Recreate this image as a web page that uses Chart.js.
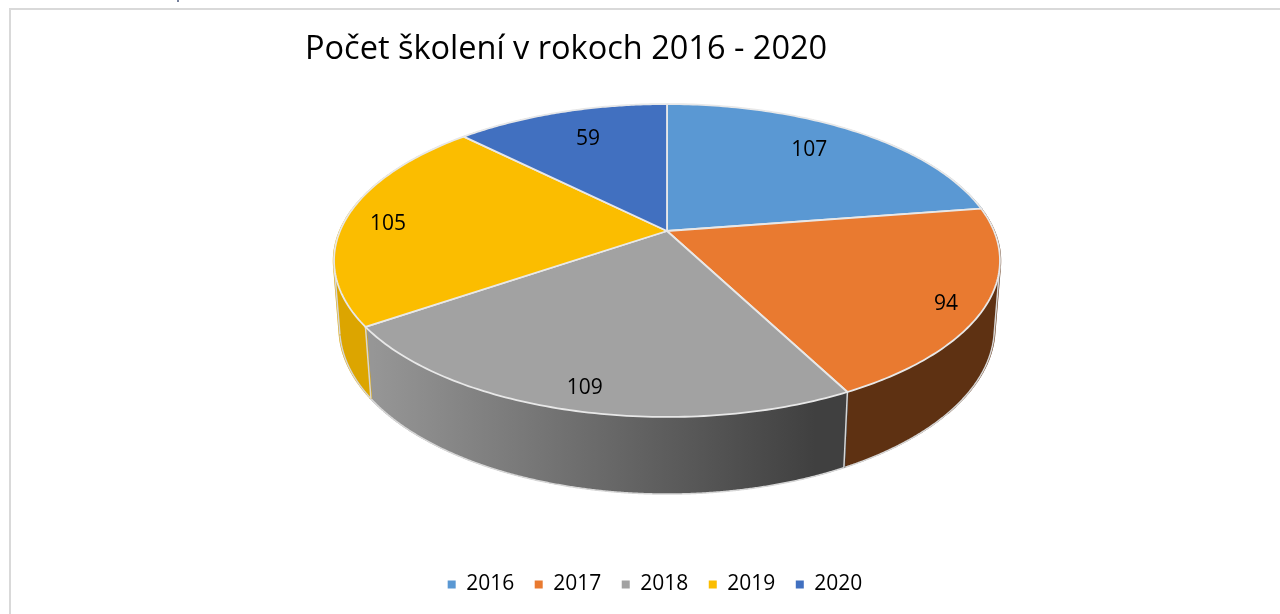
<!DOCTYPE html>
<html lang="sk">
<head>
<meta charset="utf-8">
<title>Počet školení v rokoch 2016 - 2020</title>
<script src="https://cdn.jsdelivr.net/npm/chart.js@4"></script>
<style>
  html, body { margin: 0; padding: 0; background: #fff; overflow: hidden; }
  #ramHore { position: absolute; left: 9px; top: 8px; width: 1271px; height: 2px; background: #d9d9d9; }
  #ramVlavo { position: absolute; left: 9px; top: 8px; width: 2px; height: 606px; background: #d9d9d9; }
  #znacka { position: absolute; left: 177px; top: 0; width: 2px; height: 2px; background: #75809c; }
  canvas { position: absolute; left: 0; top: 0; }
</style>
</head>
<body>
<canvas id="graf" width="1280" height="614"></canvas>
<div id="ramHore"></div>
<div id="ramVlavo"></div>
<div id="znacka"></div>
<script>
// data z grafu
var roky = ["2016", "2017", "2018", "2019", "2020"];
var skolenia = [107, 94, 109, 105, 59];
var nadpis = "Počet školení v rokoch 2016 - 2020";

// farby
var farbyVrch = ["#5a98d3", "#e97a30", "#a2a2a2", "#fbbd00", "#4170c0"];
var farbyBok = ["#335a7f", "#5e3112", "#808080", "#dca500", "#283f72"];
var farbaTextu = "#000000";
var pismo = '"Open Sans", sans-serif';

// kde sedia popisky: vzdialenost od stredu (1 = okraj) a posun od stredu vysece v stupnoch
var polohaPopisu = [0.782, 0.895, 0.886, 0.865, 0.757];
var posunPopisu = [-2.3, 1.9, -0.3, -1.3, 1.2];

// perspektiva: kruh -> obraz na platne, z = 0 vrch, z = 1 spodok
var stredX = 667, stredY = 231;
var polomerX = 327, polomerY = 150.9;
var sklon = 0.1885, hrubka = 66.9, zmensenie = 0.0165;

function premietni(uhol, r, z) {
  var u = r * Math.cos(uhol);
  var v = r * Math.sin(uhol);
  var w = 1 - sklon * v + zmensenie * z;
  return { x: stredX + polomerX * u / w, y: stredY + (polomerY * v + hrubka * z) / w };
}

function cestaOblukom(ctx, od, po, z) {
  var kroky = 90;
  for (var i = 0; i <= kroky; i++) {
    var p = premietni(od + (po - od) * i / kroky, 1, z);
    ctx.lineTo(p.x, p.y);
  }
}

// sivy bok ma prechod zlava doprava
function vyplnBoku(ctx, i) {
  if (i !== 2) return farbyBok[i];
  var g = ctx.createLinearGradient(373, 0, 815, 0);
  g.addColorStop(0, "#969696");
  g.addColorStop(1, "#404040");
  return g;
}

function ciara(ctx, uhol) {
  var a = premietni(uhol, 1, 0);
  var b = premietni(uhol, 1, 1);
  ctx.moveTo(a.x, a.y);
  ctx.lineTo(b.x, b.y);
}

// bok jednej vysece: husto zvislych ciar od vrchu po spodok, prekryvaju sa takze nevidno pruhy
function kresliBok(ctx, el, i) {
  var kroky = 400;
  var krok = (el.endAngle - el.startAngle) / kroky;
  var hrany = [el.startAngle, el.endAngle];
  var minule = 0;
  var spodok = [];

  ctx.beginPath();
  for (var k = 0; k <= kroky; k++) {
    var uhol = el.startAngle + krok * k;
    ciara(ctx, uhol);

    // tu je bok rovnobezny s okrajom, to je obrys telesa
    var a = premietni(uhol, 1, 0);
    var b = premietni(uhol, 1, 1);
    var c = premietni(uhol + krok, 1, 0);
    var smer = (c.x - a.x) * (b.y - a.y) - (c.y - a.y) * (b.x - a.x);
    if (minule * smer < 0) hrany.push(uhol);
    minule = smer;

    // spodny okraj obtiahneme len na prednej strane
    if (smer < 0) spodok.push(b);
  }
  ctx.lineWidth = 2.5;
  ctx.strokeStyle = vyplnBoku(ctx, i);
  ctx.stroke();

  ctx.beginPath();
  hrany.forEach(function(h) { ciara(ctx, h); });
  spodok.forEach(function(p, j) {
    if (j === 0) ctx.moveTo(p.x, p.y);
    else ctx.lineTo(p.x, p.y);
  });
  ctx.lineWidth = 1.5;
  ctx.strokeStyle = "#d6d6d6";
  ctx.stroke();
}

// kresli kolac z uhlov, ktore vypocital Chart.js
var kolac3d = {
  id: "kolac3d",
  beforeDatasetsDraw: function(chart) {
    var ctx = chart.ctx;
    var vysece = chart.getDatasetMeta(0).data;
    ctx.save();
    ctx.lineJoin = "round";

    vysece.forEach(function(el, i) {
      kresliBok(ctx, el, i);
    });

    // vrch
    vysece.forEach(function(el, i) {
      ctx.beginPath();
      ctx.moveTo(stredX, stredY);
      cestaOblukom(ctx, el.startAngle, el.endAngle, 0);
      ctx.closePath();
      ctx.fillStyle = farbyVrch[i];
      ctx.fill();
      ctx.lineWidth = 1.8;
      ctx.strokeStyle = "#e8e8e8";
      ctx.stroke();
    });

    // popisky
    ctx.fillStyle = farbaTextu;
    ctx.font = "21px " + pismo;
    ctx.textAlign = "center";
    ctx.textBaseline = "middle";
    vysece.forEach(function(el, i) {
      var uhol = (el.startAngle + el.endAngle) / 2 + posunPopisu[i] * Math.PI / 180;
      var p = premietni(uhol, polohaPopisu[i], 0);
      ctx.fillText(String(skolenia[i]), p.x, p.y + 2);
    });

    ctx.restore();
    return false;
  }
};

var graf = new Chart(document.getElementById("graf").getContext("2d"), {
  type: "pie",
  data: {
    labels: roky,
    datasets: [{
      data: skolenia,
      backgroundColor: farbyVrch,
      borderWidth: 0
    }]
  },
  options: {
    responsive: false,
    animation: false,
    layout: { padding: { left: 305, right: 275, top: 20, bottom: 9 } },
    plugins: {
      tooltip: { enabled: false },
      title: {
        display: true,
        text: nadpis,
        align: "start",
        color: farbaTextu,
        font: { family: pismo, size: 32.5, weight: "normal" },
        padding: { top: 10, bottom: 10 }
      },
      legend: {
        position: "bottom",
        labels: {
          boxWidth: 8,
          boxHeight: 8,
          padding: 20.5,
          color: farbaTextu,
          font: { family: pismo, size: 21 }
        }
      }
    }
  },
  plugins: [kolac3d]
});
</script>
</body>
</html>
